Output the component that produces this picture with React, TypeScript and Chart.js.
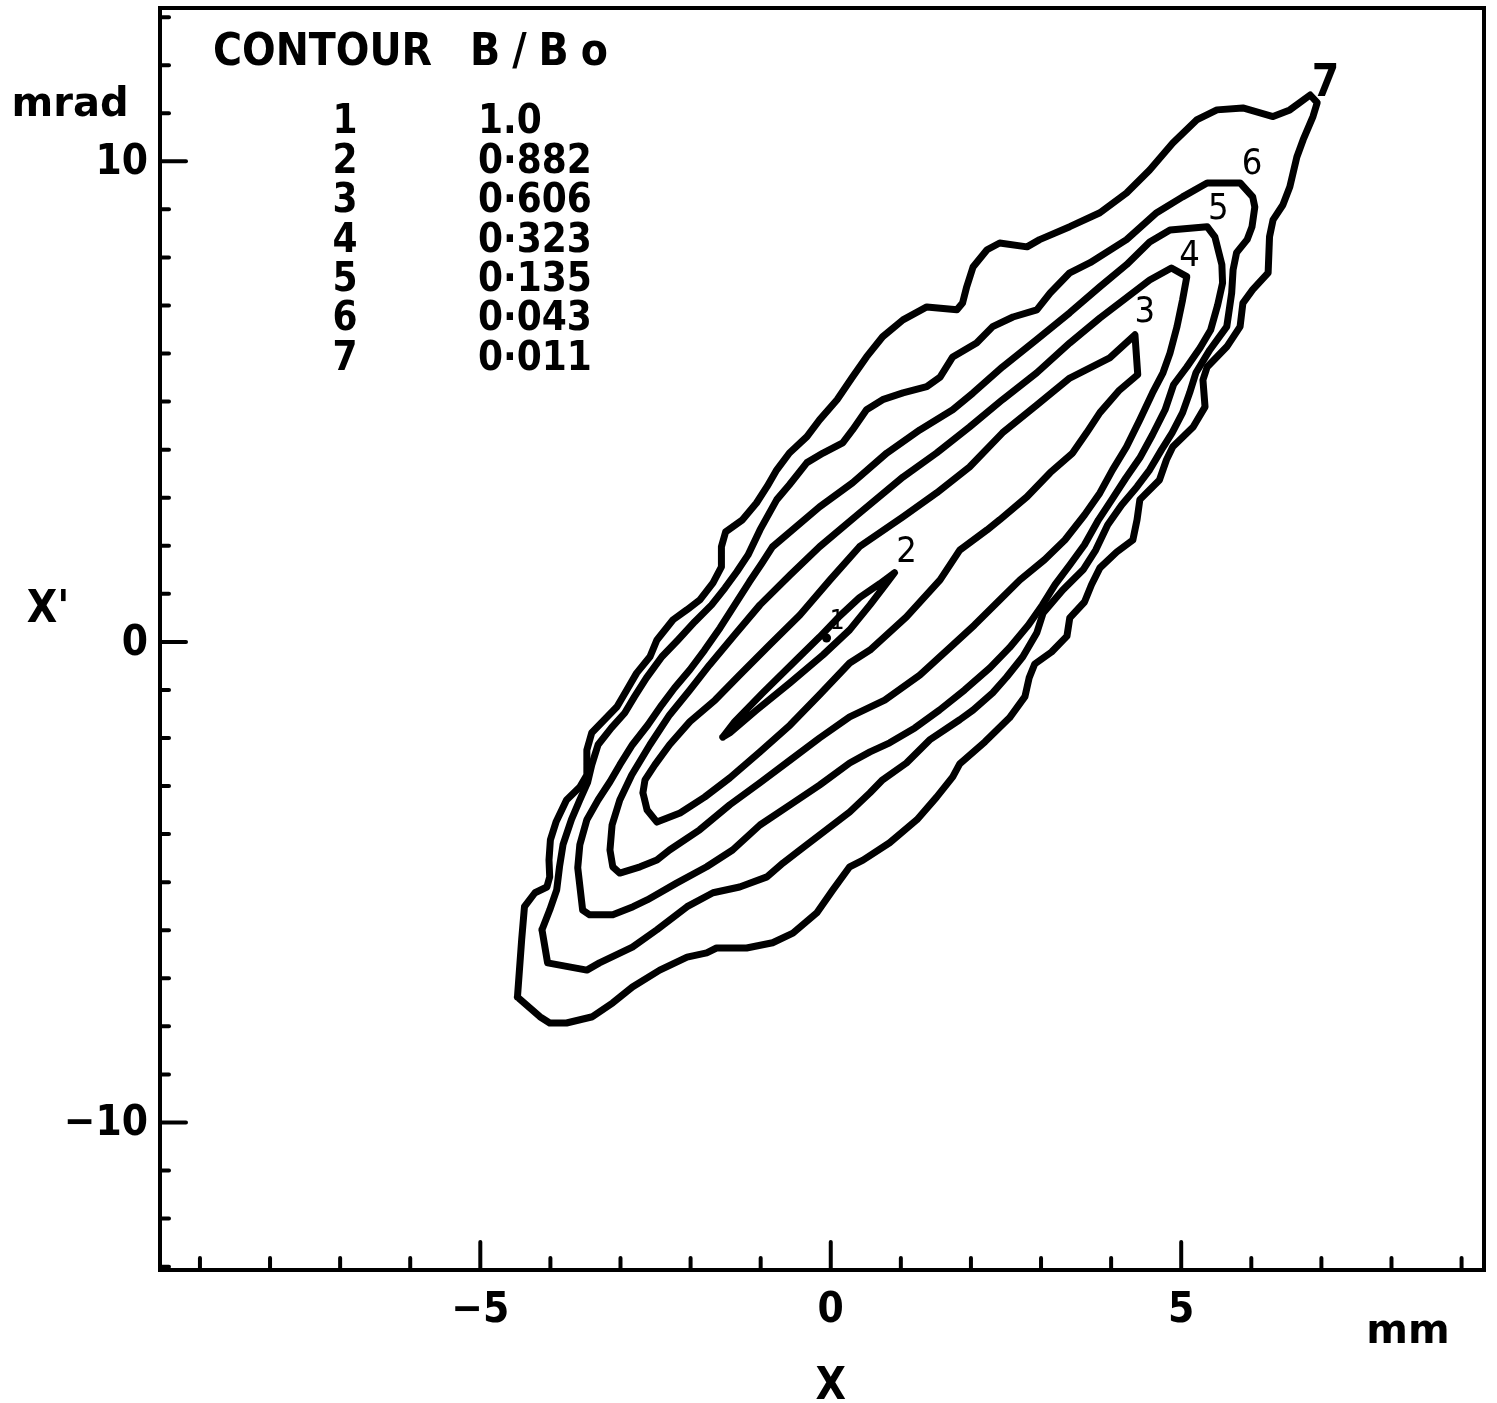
import { useEffect, useRef } from 'react';
import { Chart, registerables } from 'chart.js';

Chart.register(...registerables);

// ---- axis ranges and tick labels (data units: x in mm, x' in mrad) ----
const xRange = [-9.57, 9.32];
const yRange = [-13.07, 13.19];
const xMinorTicks = [-9, -8, -7, -6, -5, -4, -3, -2, -1, 0, 1, 2, 3, 4, 5, 6, 7, 8, 9];
const yMinorTicks = [-13, -12, -11, -10, -9, -8, -7, -6, -5, -4, -3, -2, -1, 0, 1, 2, 3, 4, 5, 6, 7, 8, 9, 10, 11, 12, 13];
const xMajorTicks = [-5, 0, 5];
const xTickLabels = ['\u22125', '0', '5'];
const yMajorTicks = [10, 0, -10];
const yTickLabels = ['10', '0', '\u221210'];

// ---- legend table ----
const contourIds = ['1', '2', '3', '4', '5', '6', '7'];
const ratioValues = ['1.0', '0\u00b7882', '0\u00b7606', '0\u00b7323', '0\u00b7135', '0\u00b7043', '0\u00b7011'];

// ---- contour traces [x (mm), x' (mrad)] ----
const contour1 = [[-0.06, 0.08]];

const contour2 = [
  [-1.54, -1.98], [-1.37, -1.66], [-0.97, -1.06], [-0.49, -0.37], [-0.16, 0.10], [0.13, 0.54],
  [0.41, 0.92], [0.70, 1.21], [0.91, 1.44], [0.80, 1.23], [0.56, 0.77], [0.27, 0.25],
  [-0.11, -0.27], [-0.58, -0.85], [-1.06, -1.42], [-1.44, -1.89],
];

const contour3 = [
  [-2.68, -3.14], [-2.65, -2.87], [-2.51, -2.56], [-2.30, -2.14], [-2.01, -1.66], [-1.65, -1.21],
  [-1.30, -0.69], [-0.87, -0.06], [-0.44, 0.56], [-0.01, 1.29], [0.41, 1.98], [1.03, 2.60],
  [1.51, 3.10], [1.98, 3.64], [2.45, 4.35], [2.94, 4.93], [3.41, 5.49], [3.98, 5.91],
  [4.34, 6.39], [4.38, 5.56], [4.12, 5.24], [3.84, 4.77], [3.65, 4.35], [3.45, 3.93],
  [3.13, 3.52], [2.80, 3.02], [2.41, 2.54], [2.23, 2.33], [1.84, 1.91], [1.56, 1.29],
  [1.08, 0.52], [0.56, -0.17], [0.27, -0.44], [-0.16, -1.10], [-0.58, -1.73], [-1.01, -2.29],
  [-1.44, -2.83], [-1.80, -3.23], [-2.15, -3.56], [-2.48, -3.75], [-2.62, -3.50],
];

const contour4 = [
  [-3.15, -4.33], [-3.12, -3.81], [-3.01, -3.29], [-2.84, -2.77], [-2.58, -2.14], [-2.30, -1.52],
  [-2.01, -1.00], [-1.73, -0.48], [-1.37, 0.15], [-1.01, 0.77], [-0.58, 1.39], [-0.16, 1.98],
  [0.41, 2.68], [1.03, 3.43], [1.51, 3.93], [1.98, 4.47], [2.45, 5.04], [2.94, 5.60],
  [3.41, 6.22], [3.84, 6.74], [4.27, 7.22], [4.55, 7.53], [4.86, 7.78], [5.08, 7.60],
  [5.02, 7.12], [4.94, 6.56], [4.84, 6.01], [4.74, 5.60], [4.59, 5.18], [4.41, 4.62],
  [4.22, 4.06], [4.02, 3.58], [3.84, 3.10], [3.62, 2.64], [3.34, 2.12], [3.05, 1.71],
  [2.70, 1.29], [2.41, 0.87], [2.05, 0.35], [1.70, -0.12], [1.27, -0.69], [0.77, -1.21],
  [0.27, -1.56], [-0.16, -2.00], [-0.58, -2.46], [-1.01, -2.93], [-1.44, -3.39], [-1.87, -3.91],
  [-2.30, -4.33], [-2.48, -4.54], [-2.72, -4.68], [-3.01, -4.81], [-3.11, -4.68],
];

const contour5 = [
  [-3.61, -4.70], [-3.58, -4.22], [-3.48, -3.70], [-3.32, -3.29], [-3.15, -2.91], [-3.01, -2.56],
  [-2.83, -2.14], [-2.61, -1.73], [-2.41, -1.31], [-2.23, -0.96], [-2.01, -0.58], [-1.80, -0.17],
  [-1.58, 0.29], [-1.37, 0.77], [-1.16, 1.25], [-0.98, 1.64], [-0.83, 1.98], [-0.16, 2.81],
  [0.31, 3.31], [0.80, 3.93], [1.27, 4.41], [1.74, 4.83], [2.03, 5.18], [2.45, 5.72],
  [2.94, 6.29], [3.41, 6.85], [3.84, 7.39], [4.22, 7.85], [4.55, 8.32], [4.84, 8.57],
  [5.37, 8.64], [5.48, 8.43], [5.58, 7.85], [5.59, 7.47], [5.52, 7.01], [5.42, 6.49],
  [5.27, 6.12], [5.08, 5.72], [4.89, 5.35], [4.77, 4.83], [4.59, 4.31], [4.41, 3.83],
  [4.21, 3.41], [4.01, 2.96], [3.82, 2.54], [3.62, 2.02], [3.41, 1.60], [3.20, 1.19],
  [3.02, 0.77], [2.82, 0.35], [2.55, -0.12], [2.27, -0.54], [1.91, -1.00], [1.55, -1.42],
  [1.20, -1.79], [0.84, -2.10], [0.56, -2.29], [0.27, -2.52], [-0.16, -2.98], [-0.58, -3.39],
  [-1.01, -3.81], [-1.40, -4.33], [-1.77, -4.68], [-2.20, -5.02], [-2.62, -5.37], [-2.82, -5.51],
  [-3.11, -5.68], [-3.44, -5.68], [-3.54, -5.58],
];

const contour6 = [
  [-4.12, -5.99], [-4.01, -5.58], [-3.91, -5.16], [-3.87, -4.68], [-3.82, -4.22], [-3.70, -3.70],
  [-3.58, -3.29], [-3.47, -2.93], [-3.41, -2.56], [-3.32, -2.14], [-3.13, -1.79], [-2.94, -1.48],
  [-2.80, -1.14], [-2.63, -0.75], [-2.41, -0.31], [-2.18, 0.04], [-1.94, 0.42], [-1.70, 0.77],
  [-1.51, 1.12], [-1.34, 1.46], [-1.18, 1.81], [-1.01, 2.33], [-0.77, 2.96], [-0.59, 3.27],
  [-0.34, 3.73], [-0.11, 3.93], [0.17, 4.14], [0.31, 4.41], [0.51, 4.83], [0.74, 5.04],
  [1.03, 5.18], [1.37, 5.31], [1.56, 5.51], [1.74, 5.93], [2.08, 6.22], [2.31, 6.56],
  [2.60, 6.76], [2.94, 6.91], [3.13, 7.26], [3.41, 7.68], [3.70, 7.89], [4.22, 8.37],
  [4.65, 8.93], [5.02, 9.26], [5.37, 9.55], [5.84, 9.55], [6.02, 9.26], [6.05, 9.05],
  [6.01, 8.64], [5.94, 8.37], [5.79, 8.10], [5.74, 7.74], [5.72, 7.26], [5.65, 6.56],
  [5.41, 6.08], [5.21, 5.60], [5.12, 5.18], [5.02, 4.77], [4.87, 4.35], [4.72, 4.00],
  [4.55, 3.58], [4.37, 3.23], [4.15, 2.85], [3.95, 2.43], [3.78, 1.91], [3.60, 1.50],
  [3.31, 1.08], [3.03, 0.60], [2.94, 0.19], [2.74, -0.31], [2.51, -0.73], [2.31, -1.06],
  [2.03, -1.42], [1.84, -1.62], [1.41, -2.04], [1.08, -2.52], [0.74, -2.87], [0.56, -3.14],
  [0.27, -3.54], [-0.44, -4.33], [-0.68, -4.60], [-0.91, -4.89], [-1.30, -5.10], [-1.68, -5.22],
  [-2.05, -5.51], [-2.48, -5.99], [-2.83, -6.35], [-3.30, -6.68], [-3.48, -6.83], [-4.04, -6.68],
];

const contour7 = [
  [-4.47, -7.39], [-4.41, -6.20], [-4.37, -5.51], [-4.22, -5.22], [-4.05, -5.10], [-4.01, -4.89],
  [-4.02, -4.54], [-4.00, -4.12], [-3.92, -3.75], [-3.77, -3.29], [-3.58, -3.02], [-3.48, -2.77],
  [-3.48, -2.25], [-3.41, -1.89], [-3.23, -1.62], [-3.05, -1.35], [-2.91, -1.00], [-2.77, -0.65],
  [-2.58, -0.31], [-2.48, 0.04], [-2.25, 0.46], [-2.05, 0.67], [-1.87, 0.87], [-1.68, 1.23],
  [-1.56, 1.56], [-1.56, 1.98], [-1.50, 2.29], [-1.26, 2.54], [-1.06, 2.89], [-0.91, 3.23],
  [-0.77, 3.58], [-0.59, 3.93], [-0.34, 4.27], [-0.16, 4.62], [0.09, 5.04], [0.31, 5.51],
  [0.51, 5.93], [0.74, 6.35], [1.03, 6.70], [1.37, 6.97], [1.80, 6.91], [1.88, 7.05],
  [1.94, 7.39], [2.03, 7.80], [2.23, 8.16], [2.41, 8.30], [2.80, 8.22], [2.98, 8.37],
  [3.41, 8.64], [3.84, 8.93], [4.22, 9.34], [4.55, 9.82], [4.88, 10.38], [5.22, 10.86],
  [5.51, 11.07], [5.88, 11.11], [6.31, 10.93], [6.55, 11.07], [6.84, 11.38], [6.94, 11.22],
  [6.88, 10.93], [6.74, 10.45], [6.65, 10.09], [6.55, 9.47], [6.45, 9.09], [6.31, 8.78],
  [6.26, 8.43], [6.24, 7.68], [6.02, 7.33], [5.88, 7.05], [5.84, 6.56], [5.65, 6.14],
  [5.37, 5.72], [5.31, 5.45], [5.34, 4.89], [5.17, 4.47], [4.88, 4.06], [4.79, 3.79],
  [4.69, 3.37], [4.41, 2.96], [4.37, 2.54], [4.31, 2.12], [4.08, 1.87], [3.84, 1.54],
  [3.72, 1.19], [3.62, 0.83], [3.41, 0.50], [3.37, 0.12], [3.15, -0.21], [2.91, -0.46],
  [2.83, -0.75], [2.77, -1.14], [2.55, -1.58], [2.20, -2.08], [1.84, -2.54], [1.74, -2.81],
  [1.51, -3.23], [1.23, -3.70], [0.84, -4.18], [0.46, -4.54], [0.27, -4.68], [0.03, -5.16],
  [-0.20, -5.64], [-0.54, -6.06], [-0.83, -6.26], [-1.20, -6.37], [-1.63, -6.37], [-1.77, -6.47],
  [-2.05, -6.56], [-2.44, -6.83], [-2.83, -7.18], [-3.11, -7.51], [-3.40, -7.80], [-3.77, -7.93],
  [-4.01, -7.93], [-4.15, -7.80],
];

// where each contour number is written (data units)
const contourLabelAnchors = [
  [0.09, 0.40], [1.08, 1.85], [4.48, 6.85], [5.12, 8.01], [5.53, 8.99], [6.01, 9.93], [7.06, 11.59],
];

const loops = [contour2, contour3, contour4, contour5, contour6, contour7];

const FONT = '"DejaVu Sans Condensed", "DejaVu Sans", sans-serif';
const FONT_WIDE = '"DejaVu Sans", sans-serif';

const paperPlugin = {
  id: 'paper',
  afterDraw(chart: any) {
    const { ctx, chartArea } = chart;
    const xs = chart.scales.x;
    const ys = chart.scales.y;
    const { left, right, top, bottom } = chartArea;
    ctx.save();
    ctx.strokeStyle = '#000';
    ctx.fillStyle = '#000';
    ctx.lineCap = 'round';

    // frame
    ctx.lineWidth = 4;
    ctx.strokeRect(left, top, right - left, bottom - top);

    // inward ticks
    ctx.lineWidth = 4;
    for (const v of xMinorTicks) {
      const p = xs.getPixelForValue(v);
      const len = xMajorTicks.includes(v) ? 28 : 12;
      ctx.beginPath();
      ctx.moveTo(p, bottom);
      ctx.lineTo(p, bottom - len);
      ctx.stroke();
    }
    for (const v of yMinorTicks) {
      const p = ys.getPixelForValue(v);
      const len = yMajorTicks.includes(v) ? 26 : 9;
      ctx.beginPath();
      ctx.moveTo(left, p);
      ctx.lineTo(left + len, p);
      ctx.stroke();
    }

    // tick labels
    ctx.font = `bold 42px ${FONT}`;
    ctx.textBaseline = 'middle';
    ctx.textAlign = 'center';
    xMajorTicks.forEach((v, i) => {
      ctx.fillText(xTickLabels[i], xs.getPixelForValue(v), bottom + 41);
    });
    ctx.textAlign = 'right';
    yMajorTicks.forEach((v, i) => {
      ctx.fillText(yTickLabels[i], left - 12, ys.getPixelForValue(v) + 2);
    });

    // axis titles
    ctx.font = `bold 44px ${FONT}`;
    ctx.textAlign = 'center';
    ctx.fillText('X', xs.getPixelForValue(0), bottom + 118);
    ctx.fillText("X'", left - 112, ys.getPixelForValue(0) - 31);
    ctx.font = `bold 40px ${FONT_WIDE}`;
    ctx.fillText('mm', right - 76, bottom + 63);
    ctx.fillText('mrad', left - 90, top + 98);

    // legend table
    ctx.textAlign = 'left';
    ctx.font = `bold 44px ${FONT}`;
    ctx.fillText('CONTOUR', left + 53, top + 46);
    (ctx as any).letterSpacing = '12px';
    ctx.fillText('B/Bo', left + 310, top + 46);
    (ctx as any).letterSpacing = '0px';
    ctx.font = `bold 40px ${FONT}`;
    contourIds.forEach((id, i) => {
      const yy = top + 115 + i * 39.4;
      ctx.textAlign = 'center';
      ctx.fillText(id, left + 185, yy);
      ctx.textAlign = 'left';
      ctx.fillText(ratioValues[i], left + 318, yy);
    });

    // contour numbers
    ctx.textAlign = 'center';
    contourLabelAnchors.forEach((a, i) => {
      if (i === 0) ctx.font = `26px ${FONT}`;
      else if (i === 6) ctx.font = `bold 44px ${FONT}`;
      else ctx.font = `36px ${FONT}`;
      ctx.fillText(contourIds[i], xs.getPixelForValue(a[0]), ys.getPixelForValue(a[1]));
    });

    ctx.restore();
  },
};

export default function App() {
  const ref = useRef<HTMLCanvasElement | null>(null);
  useEffect(() => {
    if (!ref.current) return;
    const datasets: any[] = loops.map((pts) => ({
      data: [...pts, pts[0]].map(([x, y]) => ({ x, y })),
      showLine: true,
      borderColor: '#000',
      borderWidth: 7,
      borderJoinStyle: 'round',
      borderCapStyle: 'round',
      pointRadius: 0,
      fill: false,
      tension: 0,
    }));
    datasets.push({
      data: contour1.map(([x, y]) => ({ x, y })),
      showLine: false,
      pointRadius: 4.5,
      pointBackgroundColor: '#000',
      pointBorderColor: '#000',
      borderWidth: 0,
    });
    const chart = new Chart(ref.current, {
      type: 'scatter',
      data: { datasets },
      options: {
        responsive: false,
        animation: false,
        layout: { padding: { left: 160, top: 8, right: 13, bottom: 133 } },
        plugins: { legend: { display: false }, tooltip: { enabled: false } },
        scales: {
          x: { type: 'linear', min: xRange[0], max: xRange[1], display: false },
          y: { type: 'linear', min: yRange[0], max: yRange[1], display: false },
        },
      },
      plugins: [paperPlugin],
    });
    return () => chart.destroy();
  }, []);
  return (
    <canvas
      ref={ref}
      width={1497}
      height={1403}
      style={{ position: 'absolute', left: 0, top: 0, background: '#fff' }}
    />
  );
}
